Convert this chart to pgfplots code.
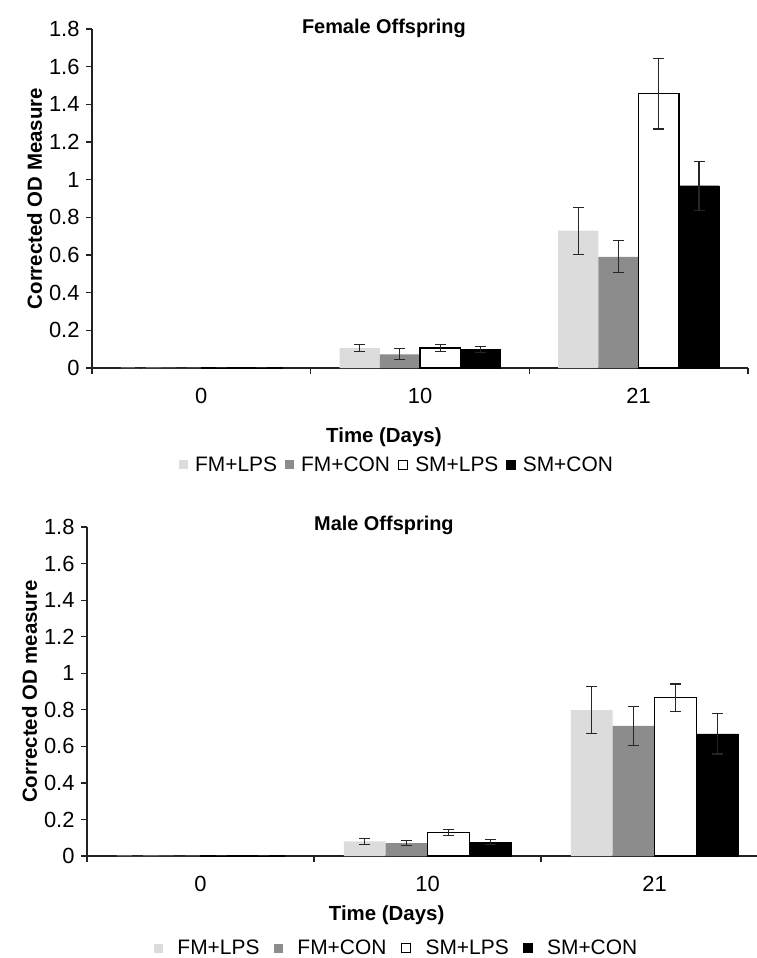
\documentclass[border=0pt]{standalone}
\usepackage{fontspec}
\setmainfont{Liberation Sans}
\usepackage{pgfplots}
\pgfplotsset{compat=1.18}
\definecolor{lightbar}{HTML}{DCDCDC}
\definecolor{midbar}{HTML}{8C8C8C}
\definecolor{axisgray}{HTML}{222222}

\pgfplotsset{
  odchart/.style={
    scale only axis,
    ybar=0pt, bar width=0.184,
    ymin=0, ymax=1.8, ytick={0,0.2,...,1.8},
    xmin=-0.5, xmax=2.5,
    xtick={-0.5,0.5,1.5,2.5}, xticklabels={},
    extra x ticks={0,1,2}, extra x tick labels={0,10,21},
    extra x tick style={major tick length=0pt, tick label style={yshift=-17bp}},
    axis x line*=bottom, axis y line*=left,
    axis line style={axisgray, line width=1.2bp},
    tick style={axisgray, line width=1.2bp},
    tick align=outside, major tick length=6bp,
    /pgf/number format/assume math mode=true,
    yticklabel style={/pgf/number format/fixed, xshift=-3bp},
    tick label style={font=\fontsize{22}{26}\selectfont},
    label style={font=\bfseries\fontsize{20.5}{24}\selectfont},
    title style={font=\bfseries\fontsize{20}{24}\selectfont, anchor=center},
    legend columns=4,
    legend style={draw=none, fill=none, anchor=center,
      font=\fontsize{21}{25}\selectfont,
      column sep=5bp, nodes={inner sep=2.5bp}},
    legend image code/.code={\path[#1, bar width=0pt] (0bp,-4.5bp) rectangle (9bp,4.5bp);},
    error bars/y dir=both, error bars/y explicit,
    error bars/error bar style={black!85, line width=1.1bp},
    error bars/error mark options={rotate=90, mark size=5.5bp, black!85, line width=1.1bp},
  },
  s1/.style={fill=lightbar, draw=none},
  s2/.style={fill=midbar, draw=none},
  s3/.style={fill=white, draw=black, line width=1.2bp},
  s4/.style={fill=black, draw=black},
}

\begin{document}
\begin{tikzpicture}[x=1bp,y=1bp]
\useasboundingbox (0,0) rectangle (757,-958);

% Female offspring
\begin{axis}[odchart,
  at={(92bp,-368bp)}, anchor=south west,
  width=656bp, height=339bp,
  title={Female Offspring},
  title style={at={(axis description cs:0.445,1)}, yshift=-5bp},
  xlabel={Time (Days)},
  xlabel style={at={(axis description cs:0.445,0)}, anchor=center, yshift=-69bp},
  ylabel={Corrected OD Measure},
  legend style={at={(axis description cs:0.465,-0.286)}},
]
\addplot[s1] coordinates {(0,0.002) +- (0,0.001) (1,0.106) +- (0,0.018) (2,0.729) +- (0,0.124)};
\addplot[s2] coordinates {(0,0.002) +- (0,0.001) (1,0.073) +- (0,0.030) (2,0.590) +- (0,0.085)};
\addplot[s3] coordinates {(0,0.004) +- (0,0.001) (1,0.106) +- (0,0.018) (2,1.457) +- (0,0.188)};
\addplot[s4] coordinates {(0,0.003) +- (0,0.002) (1,0.098) +- (0,0.017) (2,0.968) +- (0,0.130)};
\legend{FM+LPS, FM+CON, SM+LPS, SM+CON}
\end{axis}

% Male offspring
\begin{axis}[odchart,
  at={(87bp,-856bp)}, anchor=south west,
  width=681bp, height=329bp,
  title={Male Offspring},
  title style={at={(axis description cs:0.436,1)}, yshift=-4bp},
  xlabel={Time (Days)},
  xlabel style={at={(axis description cs:0.44,0)}, anchor=center, yshift=-59bp},
  ylabel={Corrected OD measure},
  legend style={at={(axis description cs:0.455,-0.28)}, column sep=12bp},
]
\addplot[s1] coordinates {(0,0.002) +- (0,0.001) (1,0.080) +- (0,0.015) (2,0.798) +- (0,0.127)};
\addplot[s2] coordinates {(0,0.002) +- (0,0.001) (1,0.071) +- (0,0.014) (2,0.712) +- (0,0.107)};
\addplot[s3] coordinates {(0,0.004) +- (0,0.001) (1,0.129) +- (0,0.016) (2,0.867) +- (0,0.074)};
\addplot[s4] coordinates {(0,0.003) +- (0,0.001) (1,0.075) +- (0,0.013) (2,0.668) +- (0,0.110)};
\legend{FM+LPS, FM+CON, SM+LPS, SM+CON}
\end{axis}
\end{tikzpicture}
\end{document}
